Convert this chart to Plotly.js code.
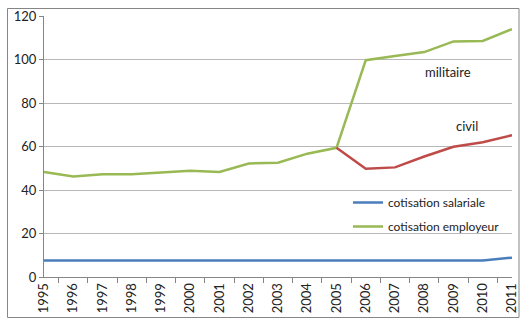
<!DOCTYPE html>
<html>
<head>
<meta charset="utf-8">
<script src="https://cdn.plot.ly/plotly-3.0.1.min.js"></script>
<style>
  html, body { margin: 0; padding: 0; background: #fff; }
  #chart { width: 529px; height: 324px; }
</style>
</head>
<body>
<div id="chart"></div>
<script>
const years = ["1995","1996","1997","1998","1999","2000","2001","2002","2003","2004","2005","2006","2007","2008","2009","2010","2011"];
const cotisationSalariale = [7.6,7.6,7.6,7.6,7.6,7.6,7.6,7.6,7.6,7.6,7.6,7.6,7.6,7.6,7.6,7.6,8.9];
const cotisationEmployeurMilitaire = [48.3,46.2,47.2,47.2,48.1,48.8,48.3,52.2,52.5,56.7,59.4,99.7,101.6,103.4,108.3,108.5,114];
const cotisationEmployeurCivil = [null,null,null,null,null,null,null,null,null,null,59.4,49.8,50.4,55.4,59.9,62,65.2];
const yTicks = [0,20,40,60,80,100,120];

const font = "Lato, 'Open Sans', sans-serif";
const txt = "#222";

const traces = [
  {x: years, y: cotisationSalariale, name: "cotisation salariale", type: "scatter", mode: "lines",
   line: {color: "#4a7ebb", width: 2.5}, legendgroup: "a"},
  {x: years, y: cotisationEmployeurMilitaire, name: "cotisation employeur", type: "scatter", mode: "lines",
   line: {color: "#98b954", width: 2.5}, legendgroup: "b"},
  {x: years, y: cotisationEmployeurCivil, name: "civil", type: "scatter", mode: "lines",
   line: {color: "#be4b48", width: 2.5}, showlegend: false, connectgaps: false}
];

const L = 44, R = 17, T = 16, B = 47, W = 529, H = 324;
const pw = W - L - R, ph = H - T - B;
const px = v => (v - L) / pw;
const py = v => (H - B - v) / ph;

const layout = {
  width: W, height: H,
  margin: {l: L, r: R, t: T, b: B, pad: 0},
  paper_bgcolor: "#fff", plot_bgcolor: "#fff",
  font: {family: font, size: 13, color: txt},
  showlegend: true,
  legend: {x: px(348), y: py(188), xanchor: "left", yanchor: "top",
           bgcolor: "rgba(255,255,255,0)", font: {family: font, size: 12, color: txt},
           tracegroupgap: 5},
  xaxis: {type: "category", tickangle: -90, showgrid: false, showline: true, linecolor: "#868686", linewidth: 1,
          ticks: "outside", tickson: "boundaries", ticklen: 5, tickcolor: "#868686",
          tickfont: {family: font, size: 13, color: txt}, zeroline: false, fixedrange: true},
  yaxis: {range: [0, 120], tickvals: yTicks, showgrid: true, gridcolor: "#b8b8b8", gridwidth: 1,
          showline: true, linecolor: "#868686", linewidth: 1, ticks: "outside", ticklen: 4, tickcolor: "#868686",
          zeroline: false, tickfont: {family: font, size: 13, color: txt}, fixedrange: true},
  annotations: [
    {xref: "paper", yref: "paper", x: px(448), y: py(72), xanchor: "center", yanchor: "middle",
     text: "militaire", showarrow: false, font: {family: font, size: 13, color: txt}},
    {xref: "paper", yref: "paper", x: px(467), y: py(126), xanchor: "center", yanchor: "middle",
     text: "civil", showarrow: false, font: {family: font, size: 13, color: txt}}
  ],
  shapes: [
    {type: "rect", xref: "paper", yref: "paper", x0: px(7.5), x1: px(519), y0: py(317.5), y1: py(8.5),
     line: {color: "#868686", width: 1}, fillcolor: "rgba(0,0,0,0)", layer: "below"}
  ]
};

Plotly.newPlot("chart", traces, layout, {displayModeBar: false, staticPlot: true});
</script>
</body>
</html>
